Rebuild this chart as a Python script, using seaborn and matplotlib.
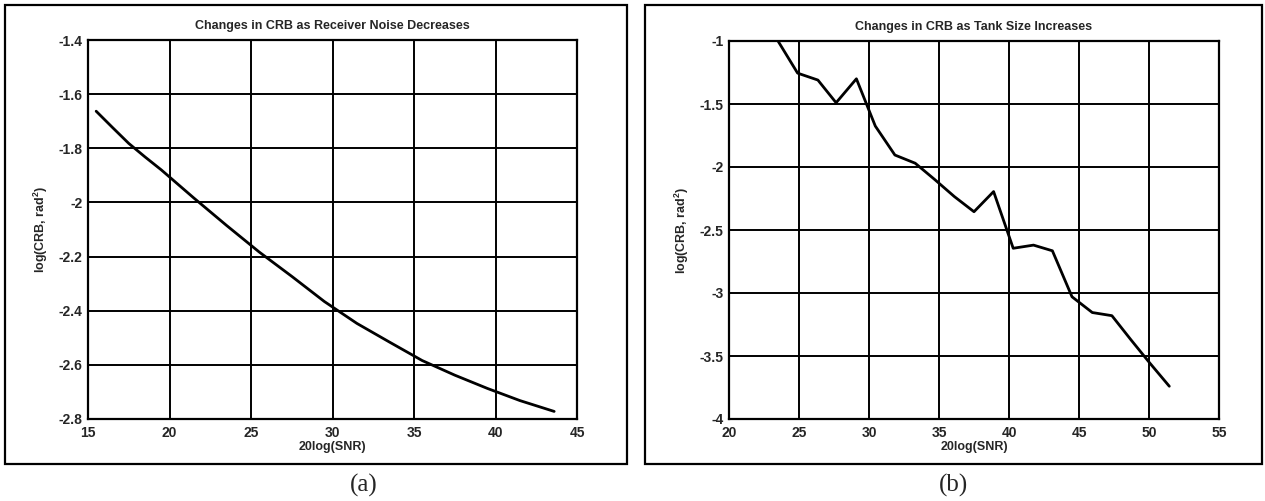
import matplotlib
matplotlib.use("Agg")
import matplotlib.pyplot as plt
from matplotlib.patches import Rectangle
import seaborn as sns
import pandas as pd

# Panel (a): CRB versus SNR as receiver noise decreases
snr_a = [15.5, 16.5, 17.5, 18.5, 19.5, 20.5, 21.5, 23.5, 25.5, 27.5, 29.5,
         31.5, 33.5, 35.5, 37.5, 39.5, 41.5, 43.6]
crb_a = [-1.663, -1.723, -1.782, -1.832, -1.880, -1.932, -1.984, -2.085,
         -2.183, -2.273, -2.366, -2.447, -2.516, -2.584, -2.638, -2.687,
         -2.732, -2.772]

# Panel (b): CRB versus SNR as tank size increases
snr_b = [23.5, 24.9, 26.35, 27.65, 29.1, 30.45, 31.85, 33.3, 34.7, 36.1,
         37.5, 38.9, 40.3, 41.75, 43.1, 44.5, 45.95, 47.35, 48.7, 50.05, 51.45]
crb_b = [-1.0, -1.255, -1.31, -1.49, -1.30, -1.675, -1.905, -1.97, -2.10,
         -2.235, -2.355, -2.195, -2.645, -2.62, -2.665, -3.03, -3.155, -3.18,
         -3.37, -3.555, -3.74]

xticks_a = [15, 20, 25, 30, 35, 40, 45]
yticks_a = [-1.4, -1.6, -1.8, -2.0, -2.2, -2.4, -2.6, -2.8]
xticks_b = [20, 25, 30, 35, 40, 45, 50, 55]
yticks_b = [-1.0, -1.5, -2.0, -2.5, -3.0, -3.5, -4.0]

title_a = "Changes in CRB as Receiver Noise Decreases"
title_b = "Changes in CRB as Tank Size Increases"
xlabel = "20log(SNR)"
ylabel = r"log(CRB, rad$^{2}$)"
captions = ["(a)", "(b)"]

sns.set_style("white")
plt.rcParams["font.family"] = ["Liberation Sans", "DejaVu Sans"]
plt.rcParams["mathtext.fontset"] = "custom"
plt.rcParams["mathtext.rm"] = "Liberation Sans:bold"
plt.rcParams["mathtext.it"] = "Liberation Sans:bold"

W, H = 1265, 501
fig = plt.figure(figsize=(W / 100, H / 100), dpi=100)
fig.patch.set_facecolor("white")


def px_box(x0, y0, x1, y1):
    """Convert a pixel box (top-left origin) to figure fractions."""
    return [x0 / W, 1 - y1 / H, (x1 - x0) / W, (y1 - y0) / H]


def fmt(v):
    return f"{v:g}"


def draw_panel(axbox, xs, ys, xticks, yticks, title):
    ax = fig.add_axes(px_box(*axbox))
    df = pd.DataFrame({"snr": xs, "crb": ys})
    sns.lineplot(data=df, x="snr", y="crb", ax=ax, color="black",
                 linewidth=2.0, sort=False, zorder=3)
    ax.set_xlim(xticks[0], xticks[-1])
    ax.set_ylim(min(yticks), max(yticks))
    ax.set_xticks(xticks)
    ax.set_yticks(yticks)
    ax.set_xticklabels([fmt(t) for t in xticks], fontsize=10, fontweight="bold")
    ax.set_yticklabels([fmt(t) for t in yticks], fontsize=10, fontweight="bold")
    ax.tick_params(axis="both", length=0, pad=4)
    ax.tick_params(axis="x", pad=5)
    ax.grid(True, color="black", linewidth=1.4, linestyle="-")
    ax.set_axisbelow(True)
    for sp in ax.spines.values():
        sp.set_visible(True)
        sp.set_color("black")
        sp.set_linewidth(1.6)
    ax.set_title(title, fontsize=9, fontweight="bold", pad=8)
    ax.set_xlabel(xlabel, fontsize=9, fontweight="bold", labelpad=1)
    ax.set_ylabel(ylabel, fontsize=9, fontweight="bold", labelpad=6)
    return ax


ax_a = draw_panel((88, 40, 577, 419), snr_a, crb_a, xticks_a, yticks_a, title_a)
ax_b = draw_panel((729, 41, 1219, 419), snr_b, crb_b, xticks_b, yticks_b, title_b)

# Outer frames around each panel
for (x0, y0, x1, y1) in [(5, 5, 627, 464), (645, 5, 1262, 464)]:
    b = px_box(x0, y0, x1, y1)
    fig.add_artist(Rectangle((b[0], b[1]), b[2], b[3], transform=fig.transFigure,
                             fill=False, edgecolor="black", linewidth=1.6))

# Panel captions below the frames
for cx, cap in zip([364, 953], captions):
    fig.text(cx / W, 1 - 485 / H, cap, ha="center", va="center",
             fontsize=18, family=["Liberation Serif", "DejaVu Serif"])

fig.savefig("out.png", dpi=100, facecolor="white")
